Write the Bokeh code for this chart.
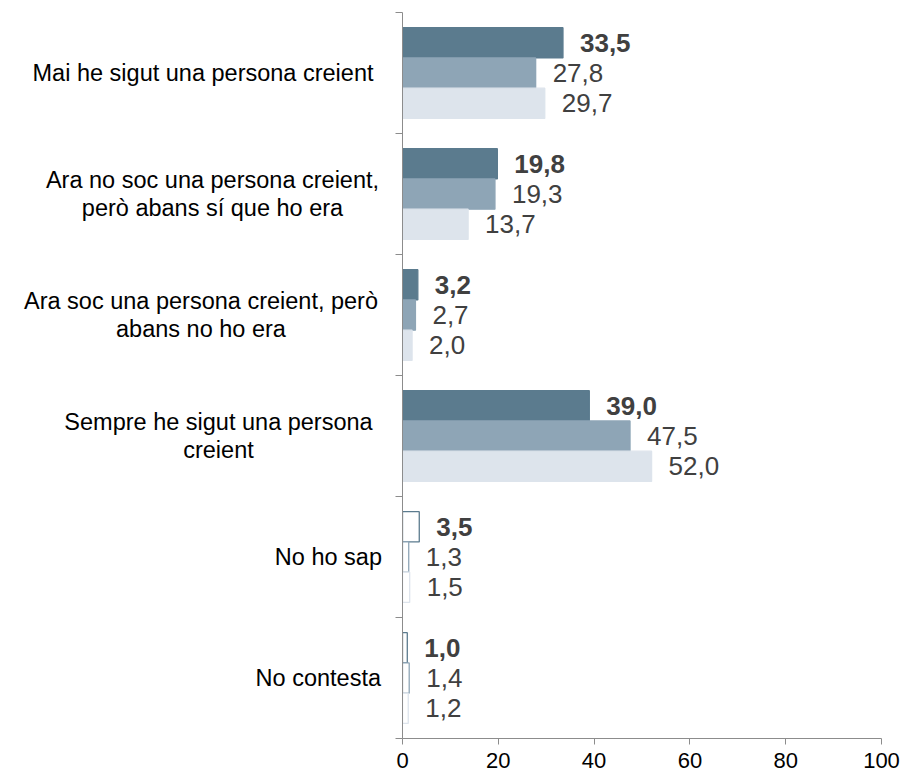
from bokeh.plotting import figure
from bokeh.layouts import row
from bokeh.models import Range1d, FixedTicker, ColumnDataSource
from bokeh.core.properties import value
from bokeh.embed import file_html
from bokeh.resources import INLINE

# ---- data ----
categories = [
    "Mai he sigut una persona creient",
    "Ara no soc una persona creient,\nperò abans sí que ho era",
    "Ara soc una persona creient, però\nabans no ho era",
    "Sempre he sigut una persona\ncreient",
    "No ho sap",
    "No contesta",
]
series_1 = [33.5, 19.8, 3.2, 39.0, 3.5, 1.0]
series_2 = [27.8, 19.3, 2.7, 47.5, 1.3, 1.4]
series_3 = [29.7, 13.7, 2.0, 52.0, 1.5, 1.2]
x_ticks = [0, 20, 40, 60, 80, 100]

# ---- styling ----
colors = ["#5B7B8E", "#8EA5B6", "#DDE4EC"]
hollow_categories = {"No ho sap", "No contesta"}
FONT = "Liberation Sans"
AXIS_COLOR = "#8C8C8C"
H = 776
TOP, BOTTOM = 12, 38
LABEL_W = 382

n = len(categories)

# ---- left panel: category labels ----
lab = figure(
    width=LABEL_W, height=H,
    x_range=Range1d(0, LABEL_W), y_range=Range1d(0, n),
    x_axis_type=None, y_axis_type=None,
    output_backend="svg", toolbar_location=None,
    min_border_left=0, min_border_right=0,
    min_border_top=TOP, min_border_bottom=BOTTOM,
)
lab.outline_line_color = None
lab.grid.visible = False
# (text anchor position in px, alignment) per category label
label_pos = [(373, "right"), (212, "center"), (200.5, "center"),
             (218, "center"), (381.5, "right"), (380.5, "right")]
lab_src = ColumnDataSource(dict(
    x=[lp[0] for lp in label_pos],
    y=[n - i - 0.5 for i in range(n)],
    text=categories,
    align=[lp[1] for lp in label_pos],
))
lab.text(x="x", y="y", text="text", text_align="align", source=lab_src,
         text_baseline="middle", text_font=value(FONT),
         text_font_size="23.5px", text_color="#000000", text_line_height=1.08)

# ---- right panel: bars ----
p = figure(
    width=526, height=H,
    x_range=Range1d(0, 100), y_range=Range1d(0, n),
    output_backend="svg", toolbar_location=None,
    min_border_left=20, min_border_right=27,
    min_border_top=TOP, min_border_bottom=BOTTOM,
)
p.outline_line_color = None
p.grid.visible = False

bar_h = 0.25


def fmt(v):
    return f"{v:.1f}".replace(".", ",")


for k, (vals, col) in enumerate(zip([series_1, series_2, series_3], colors)):
    ys = [n - i - 0.5 + (1 - k) * bar_h for i in range(n)]
    fills = ["white" if c in hollow_categories else col for c in categories]
    src = ColumnDataSource(dict(y=ys, right=vals, fill=fills,
                                label=[fmt(v) for v in vals]))
    p.hbar(y="y", left=0, right="right", height=bar_h, fill_color="fill",
           line_color=col, line_width=1.3, source=src)
    p.text(x="right", y="y", text="label", source=src, x_offset=17,
           text_align="left", text_baseline="middle",
           text_font=value(FONT), text_font_size="26px", text_color="#404040",
           text_font_style="bold" if k == 0 else "normal")

# x axis
xa = p.xaxis[0]
xa.ticker = FixedTicker(ticks=x_ticks)
xa.axis_line_color = AXIS_COLOR
xa.major_tick_line_color = AXIS_COLOR
xa.minor_tick_line_color = None
xa.major_tick_out = 6
xa.major_tick_in = 0
xa.major_label_standoff = 8
xa.major_label_text_font = FONT
xa.major_label_text_font_size = "22px"
xa.major_label_text_color = "#000000"

# y axis: only boundary ticks
ya = p.yaxis[0]
ya.ticker = FixedTicker(ticks=list(range(n + 1)))
ya.major_label_overrides = {i: "" for i in range(n + 1)}
ya.major_label_standoff = 0
ya.axis_line_color = AXIS_COLOR
ya.major_tick_line_color = AXIS_COLOR
ya.minor_tick_line_color = None
ya.major_tick_out = 7
ya.major_tick_in = 0

layout = row(lab, p)
open("out.html", "w").write(file_html(layout, INLINE))
